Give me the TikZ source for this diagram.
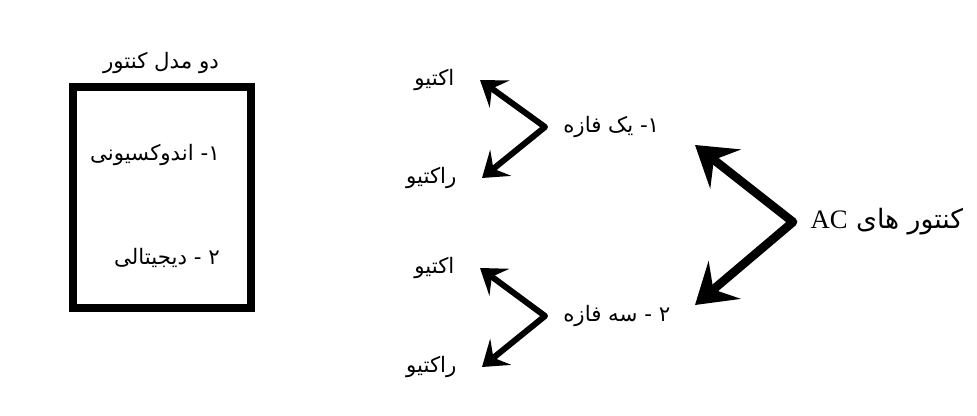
\documentclass[tikz,border=0pt]{standalone}
\usepackage{fontspec}
\usepackage{tikz}
\usetikzlibrary{arrows.meta, positioning}
\TeXXeTstate=1
\newfontfamily\fafont[Script=Arabic]{DejaVu Sans}
\newfontfamily\latfont{Liberation Serif}
\newcommand{\fatext}[1]{\fafont\beginR #1\endR}

\begin{document}
\begin{tikzpicture}[x=0.75pt, y=-0.75pt,
            fatxt/.style={inner sep=0pt, font=\fontsize{16}{19}\selectfont},
            tiplbl/.style={fatxt, inner xsep=19pt, anchor=east},
            phaselbl/.style={fatxt, inner xsep=13.5pt, anchor=west},
            smallarr/.style={line width=4.5pt, line join=round,
                arrows={Stealth[length=18pt,width=25pt,inset=7pt]-Stealth[length=18pt,width=25pt,inset=7pt]}},
            bigarr/.style={line width=6.5pt, line join=round,
                arrows={Stealth[length=29pt,width=37pt,inset=11pt]-Stealth[length=29pt,width=37pt,inset=11pt]}}]
            \useasboundingbox (0,0) rectangle (977,416);
            \node[fatxt] (title) at (161,63) {\fatext{دو مدل کنتور}};
            \node[draw, line width=6.4pt, minimum width=133.5pt, minimum height=165.75pt] (frame) at (162,197.5) {};
            \node[fatxt, anchor=east] (indc) at (220,155) {\fatext{۱- اندوکسیونی}};
            \node[fatxt, anchor=east] (digi) at (220,258) {\fatext{۲ - دیجیتالی}};

            \node[phaselbl] (one) at (545,127) {\fatext{۱- یک فازه}};
            \node[tiplbl] (oneact) at (480,80) {\fatext{اکتیو}};
            \node[tiplbl] (onereact) at (482,178) {\fatext{راکتیو}};
            \draw[smallarr] (oneact.east) -- (one.west) -- (onereact.east);

            \node[phaselbl] (three) at (545,316) {\fatext{۲ - سه فازه}};
            \node[tiplbl] (threeact) at (480,268) {\fatext{اکتیو}};
            \node[tiplbl] (threereact) at (482,367) {\fatext{راکتیو}};
            \draw[smallarr] (threeact.east) -- (three.west) -- (threereact.east);

            \node[fatxt, anchor=west, inner xsep=13pt, font=\fontsize{20}{24}\selectfont] (ac) at (793,222)
                {\fatext{کنتور های \beginL{\latfont AC}\endL{}}};
            \coordinate (acup) at (695,145);
            \coordinate (acdn) at (695,305);
            \draw[bigarr] (acup) -- (ac.west) -- (acdn);
        \end{tikzpicture}
\end{document}
